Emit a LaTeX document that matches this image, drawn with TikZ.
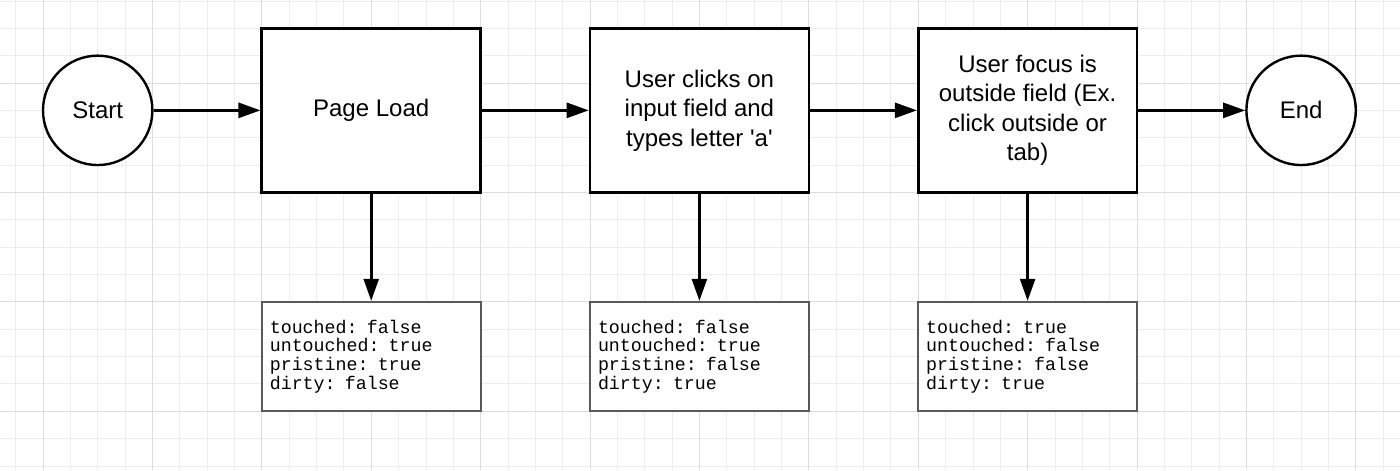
\documentclass[tikz,border=0pt]{standalone}
\usepackage{fontspec}
\setmainfont{Liberation Sans}
\setmonofont{Liberation Mono}
\usetikzlibrary{arrows.meta}
\definecolor{minorgrid}{HTML}{EDEDED}
\definecolor{majorgrid}{HTML}{DDDDDD}
\definecolor{stateline}{HTML}{5A5A5A}
\begin{document}
\begin{tikzpicture}[x=27.35pt,y=27.35pt,
    terminal/.style={circle,draw,line width=2.4pt,fill=white,minimum size=109.4pt,inner sep=0pt,font=\fontsize{24}{29.5}\selectfont},
    process/.style={rectangle,draw,line width=2.6pt,fill=white,minimum width=218.8pt,minimum height=164.1pt,inner sep=0pt,align=center,font=\fontsize{24}{29.5}\selectfont},
    state/.style={rectangle,draw=stateline,line width=2pt,fill=white,minimum width=218.8pt,minimum height=109.4pt,inner xsep=8pt,inner ysep=0pt,text width=202.8pt,align=left,font=\fontsize{18.3}{18.6}\selectfont\ttfamily},
    flow/.style={line width=2.6pt,-{Triangle[length=22pt,width=15pt]}}]
      \useasboundingbox[fill=white] (-1.572,-14.15) rectangle (49.616,3.035);
      \draw[minorgrid,line width=0.8pt] (-1.572,-14.15) grid[step=1] (49.616,3.035);
      \draw[majorgrid,line width=0.8pt] (-1.572,-14.15) grid[step=4] (49.616,3.035);
      \node[terminal] (start) at (2,-1) {Start};
      \node[process] (load) at (12,-1) {Page Load};
      \node[process] (click) at (24,-1) {User clicks on\\input field and\\types letter \textquotesingle a\textquotesingle};
      \node[process] (blur) at (36,-1) {User focus is\\outside field (Ex.\\click outside or\\tab)};
      \node[terminal] (finish) at (46,-1) {End};
      \node[state] (loadstate) at (12,-10) {touched: false\\untouched: true\\pristine: true\\dirty: false};
      \node[state] (clickstate) at (24,-10) {touched: false\\untouched: true\\pristine: false\\dirty: true};
      \node[state] (blurstate) at (36,-10) {touched: true\\untouched: false\\pristine: false\\dirty: true};
      \draw[flow] (start) -- (load);
      \draw[flow] (load) -- (click);
      \draw[flow] (click) -- (blur);
      \draw[flow] (blur) -- (finish);
      \draw[flow] (load) -- (loadstate);
      \draw[flow] (click) -- (clickstate);
      \draw[flow] (blur) -- (blurstate);
\end{tikzpicture}
\end{document}
